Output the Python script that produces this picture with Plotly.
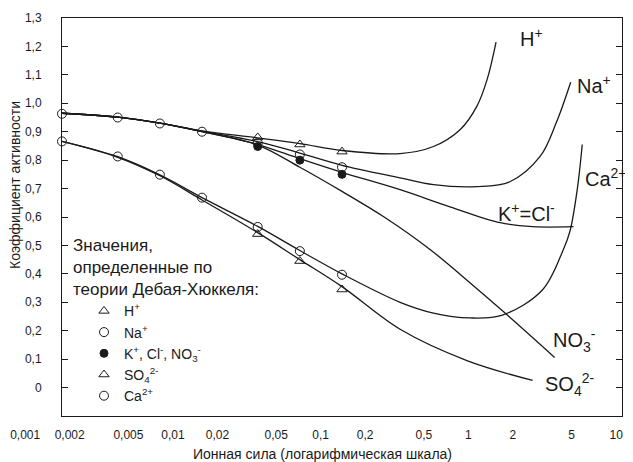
import plotly.graph_objects as go

# ---------------- data ----------------
# Experimental activity-coefficient curves: ionic strength I and gamma
h_I = [0.001, 0.0025, 0.005, 0.01, 0.025, 0.05, 0.1, 0.26, 0.45, 0.7, 0.92, 1.09, 1.26]
h_g = [0.965, 0.951, 0.930, 0.903, 0.878, 0.858, 0.834, 0.823, 0.848, 0.908, 0.990, 1.085, 1.215]

na_I = [0.001, 0.0025, 0.005, 0.01, 0.025, 0.05, 0.1, 0.26, 0.45, 0.92, 1.58, 2.6, 3.4, 4.3]
na_g = [0.965, 0.951, 0.930, 0.902, 0.865, 0.825, 0.782, 0.738, 0.714, 0.707, 0.724, 0.813, 0.933, 1.074]

kcl_I = [0.001, 0.0025, 0.005, 0.01, 0.025, 0.05, 0.1, 0.26, 0.59, 1.35, 2.3, 4.5]
kcl_g = [0.965, 0.951, 0.930, 0.900, 0.855, 0.805, 0.757, 0.696, 0.636, 0.580, 0.566, 0.566]

no3_I = [0.001, 0.0025, 0.005, 0.01, 0.025, 0.05, 0.1, 0.2, 0.43, 0.86, 1.4, 3.3]
no3_g = [0.965, 0.951, 0.930, 0.900, 0.853, 0.775, 0.690, 0.600, 0.484, 0.360, 0.270, 0.106]

ca_I = [0.001, 0.0025, 0.005, 0.01, 0.025, 0.05, 0.1, 0.26, 0.45, 0.82, 1.4, 2.7, 3.8, 4.25, 4.8, 5.2]
ca_g = [0.866, 0.812, 0.748, 0.668, 0.567, 0.482, 0.400, 0.300, 0.262, 0.245, 0.255, 0.343, 0.484, 0.550, 0.700, 0.855]

so4_I = [0.001, 0.0025, 0.005, 0.01, 0.025, 0.05, 0.1, 0.26, 0.78, 2.3]
so4_g = [0.866, 0.810, 0.745, 0.660, 0.545, 0.450, 0.355, 0.205, 0.095, 0.025]

# Debye-Hueckel theoretical values (markers)
dh_h_I = [0.025, 0.05, 0.1]
dh_h_g = [0.880, 0.855, 0.830]
dh_na_I = [0.001, 0.0025, 0.005, 0.01, 0.025, 0.05, 0.1]
dh_na_g = [0.963, 0.950, 0.929, 0.900, 0.860, 0.820, 0.775]
dh_k_I = [0.025, 0.05, 0.1]
dh_k_g = [0.848, 0.800, 0.750]
dh_so4_I = [0.025, 0.05, 0.1]
dh_so4_g = [0.540, 0.445, 0.345]
dh_ca_I = [0.001, 0.0025, 0.005, 0.01, 0.025, 0.05, 0.1]
dh_ca_g = [0.866, 0.813, 0.749, 0.668, 0.565, 0.480, 0.397]

# Axis ticks
y_tickvals = [0, 0.1, 0.2, 0.3, 0.4, 0.5, 0.6, 0.7, 0.8, 0.9, 1.0, 1.1, 1.2, 1.3]
y_ticktext = ["0", "0,1", "0,2", "0,3", "0,4", "0,5", "0,6", "0,7", "0,8", "0,9",
              "1,0", "1,1", "1,2", "1,3"]
x_tickvals = [0.001, 0.002, 0.005, 0.01, 0.02, 0.05, 0.1, 0.2, 0.5, 1, 2, 5, 10]
x_ticktext = ["0,001", "0,002", "0,005", "0,01", "0,02", "0,05", "0,1", "0,2",
              "0,5", "1", "2", "5", "10"]

# Curve labels: (text, log10 I, gamma)
curve_labels = [
    ("H<sup>+</sup>", 0.257, 1.233),
    ("Na<sup>+</sup>", 0.664, 1.067),
    ("Ca<sup>2+</sup>", 0.721, 0.739),
    ("K<sup>+</sup>=Cl<sup>-</sup>", 0.100, 0.615),
    ("NO<sub>3</sub><sup>-</sup>", 0.493, 0.166),
    ("SO<sub>4</sub><sup>2-</sup>", 0.436, 0.011),
]

FONT = "Liberation Sans, Arial, sans-serif"
INK = "#1a1a1a"

# page layout (the html body has an 8px margin, so the figure is 8px smaller)
OFF = 8
W, H = 633 - OFF, 462 - OFF
PX0, PX1, PY0, PY1 = 20, 625, 18, 416          # plot area in page pixels
L, R, T, B = PX0 - OFF, 633 - PX1, PY0 - OFF, 462 - PY1
pw, ph = PX1 - PX0, PY1 - PY0


def px(xp):
    return (xp - PX0) / pw


def py(yp):
    return (PY1 - yp) / ph


fig = go.Figure()

for xs, ys in [(h_I, h_g), (na_I, na_g), (kcl_I, kcl_g), (no3_I, no3_g),
               (ca_I, ca_g), (so4_I, so4_g)]:
    fig.add_trace(go.Scatter(
        x=xs, y=ys, mode="lines",
        line=dict(color=INK, width=1.3, shape="spline", smoothing=1.0),
        showlegend=False, hoverinfo="skip", cliponaxis=False,
    ))

marker_sets = [
    ("H<sup>+</sup>", dh_h_I, dh_h_g, "triangle-up-open", 9),
    ("Na<sup>+</sup>", dh_na_I, dh_na_g, "circle-open", 9),
    ("K<sup>+</sup>, Cl<sup>-</sup>, NO<sub>3</sub><sup>-</sup>", dh_k_I, dh_k_g, "circle", 8),
    ("SO<sub>4</sub><sup>2-</sup>", dh_so4_I, dh_so4_g, "triangle-up-open", 9),
    ("Ca<sup>2+</sup>", dh_ca_I, dh_ca_g, "circle-open", 9),
]
for name, xs, ys, sym, sz in marker_sets:
    fig.add_trace(go.Scatter(
        x=xs, y=ys, mode="markers", name=name,
        marker=dict(symbol=sym, size=sz, color=INK, line=dict(color=INK, width=1)),
        cliponaxis=False,
    ))

# carrier for the (offset) tick-label axis of the original scan
fig.add_trace(go.Scatter(x=x_tickvals, y=[None] * len(x_tickvals), xaxis="x2", yaxis="y",
                         mode="markers", showlegend=False, hoverinfo="skip"))

for text, lx, ly in curve_labels:
    fig.add_annotation(x=lx, y=ly, xref="x", yref="y", text=text, showarrow=False,
                       xanchor="left", yanchor="middle",
                       font=dict(family=FONT, size=20, color=INK))

fig.add_annotation(
    x=px(15), y=py(185), xref="paper", yref="paper",
    text="Коэффициент активности", showarrow=False, textangle=-90,
    xanchor="center", yanchor="middle",
    font=dict(family=FONT, size=14, color=INK),
)

fig.update_layout(
    width=W, height=H,
    margin=dict(l=L, r=R, t=T, b=B, autoexpand=False),
    paper_bgcolor="white", plot_bgcolor="rgba(0,0,0,0)",
    font=dict(family=FONT, size=12, color=INK),
    xaxis=dict(
        type="log", range=[-3, 1], domain=[px(62), px(622)],
        showline=True, mirror=True, linecolor=INK, linewidth=1,
        ticks="", showticklabels=False, showgrid=False, zeroline=False,
    ),
    xaxis2=dict(
        type="log", range=[-3.035, 1.06], domain=[0, 1], anchor="free", position=0,
        showline=False, ticks="", tickvals=x_tickvals, ticktext=x_ticktext,
        ticklabelstandoff=10, ticklabeloverflow="allow",
        showgrid=False, zeroline=False, automargin=False,
        tickfont=dict(family=FONT, size=12, color=INK),
        title=dict(text="Ионная сила (логарифмическая шкала)", standoff=10,
                   font=dict(family=FONT, size=14, color=INK)),
    ),
    yaxis=dict(
        range=[-0.1, 1.3], anchor="x", showline=True, mirror="ticks",
        linecolor=INK, linewidth=1, ticks="inside", ticklen=6, tickcolor=INK,
        tickvals=y_tickvals, ticktext=y_ticktext, ticklabelstandoff=17,
        ticklabeloverflow="allow",
        showgrid=False, zeroline=False, automargin=False,
        tickfont=dict(family=FONT, size=12, color=INK),
    ),
    legend=dict(
        x=px(71), y=py(229), xanchor="left", yanchor="top",
        bgcolor="rgba(255,255,255,0)", borderwidth=0,
        title=dict(text="Значения,<br>определенные по<br>теории Дебая-Хюккеля:",
                   side="top", font=dict(family=FONT, size=17, color=INK)),
        font=dict(family=FONT, size=14, color=INK),
        indentation=13, tracegroupgap=0,
    ),
)

fig.write_html("out.html")
